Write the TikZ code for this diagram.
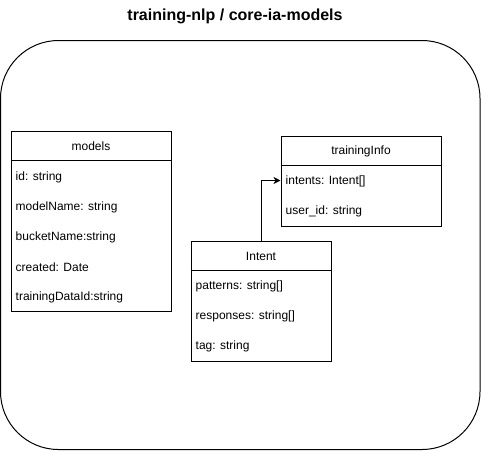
\documentclass[tikz,border=0pt]{standalone}
\usepackage{fontspec}
\setmainfont{Liberation Sans}
\usetikzlibrary{arrows.meta,calc}
\begin{document}
\begin{tikzpicture}[x=1pt,y=-1pt,
  box/.style={draw, line width=1pt, inner sep=0pt, anchor=north west},
  hdr/.style={font=\fontsize{12}{14}\selectfont, anchor=center, inner sep=0pt},
  fld/.style={font=\fontsize{12}{14}\selectfont, anchor=west, inner sep=0pt},
  sep/.style={line width=1pt},
  conn/.style={line width=1pt, -{Stealth[length=7pt,width=7pt,inset=2pt]}},
]
\useasboundingbox (0,0) rectangle (481,451);
\node[font=\bfseries\fontsize{16}{19}\selectfont, inner sep=0pt] (title) at (235,16) {training-nlp / core-ia-models};
\draw[line width=1pt, rounded corners=58pt] (0.5,40.5) rectangle (480,449.5);

% models
\node[box, minimum width=160pt, minimum height=180pt] (models) at (10.5,130.5) {};
\draw[sep] ($(models.north west)+(0,30)$) -- ($(models.north east)+(0,30)$);
\node[hdr] (modelsT) at ($(models.north)+(0,16)$) {models};
\node[fld] (m1) at ($(models.north west)+(5,46.5)$) {id: string};
\node[fld] (m2) at ($(models.north west)+(5,76.5)$) {modelName: string};
\node[fld] (m3) at ($(models.north west)+(5,106.5)$) {bucketName:string};
\node[fld] (m4) at ($(models.north west)+(5,136.5)$) {created: Date};
\node[fld] (m5) at ($(models.north west)+(5,166.5)$) {trainingDataId:string};

% trainingInfo
\node[box, minimum width=160pt, minimum height=90pt] (tinfo) at (280.5,135.5) {};
\draw[sep] ($(tinfo.north west)+(0,30)$) -- ($(tinfo.north east)+(0,30)$);
\node[hdr] (tinfoT) at ($(tinfo.north)+(0,16)$) {trainingInfo};
\node[fld] (t1) at ($(tinfo.north west)+(5,46)$) {intents: Intent[]};
\node[fld] (t2) at ($(tinfo.north west)+(5,76)$) {user\_id: string};

% Intent
\node[box, minimum width=140pt, minimum height=120pt] (intent) at (190.5,240.5) {};
\draw[sep] ($(intent.north west)+(0,30)$) -- ($(intent.north east)+(0,30)$);
\node[hdr] (intentT) at ($(intent.north)+(0,16)$) {Intent};
\node[fld] (i1) at ($(intent.north west)+(5,46)$) {patterns: string[]};
\node[fld] (i2) at ($(intent.north west)+(5,76)$) {responses: string[]};
\node[fld] (i3) at ($(intent.north west)+(5,106)$) {tag: string};

% connector
\draw[conn] (intent.north) |- ($(tinfo.north west)+(0,45)$);
\end{tikzpicture}
\end{document}
